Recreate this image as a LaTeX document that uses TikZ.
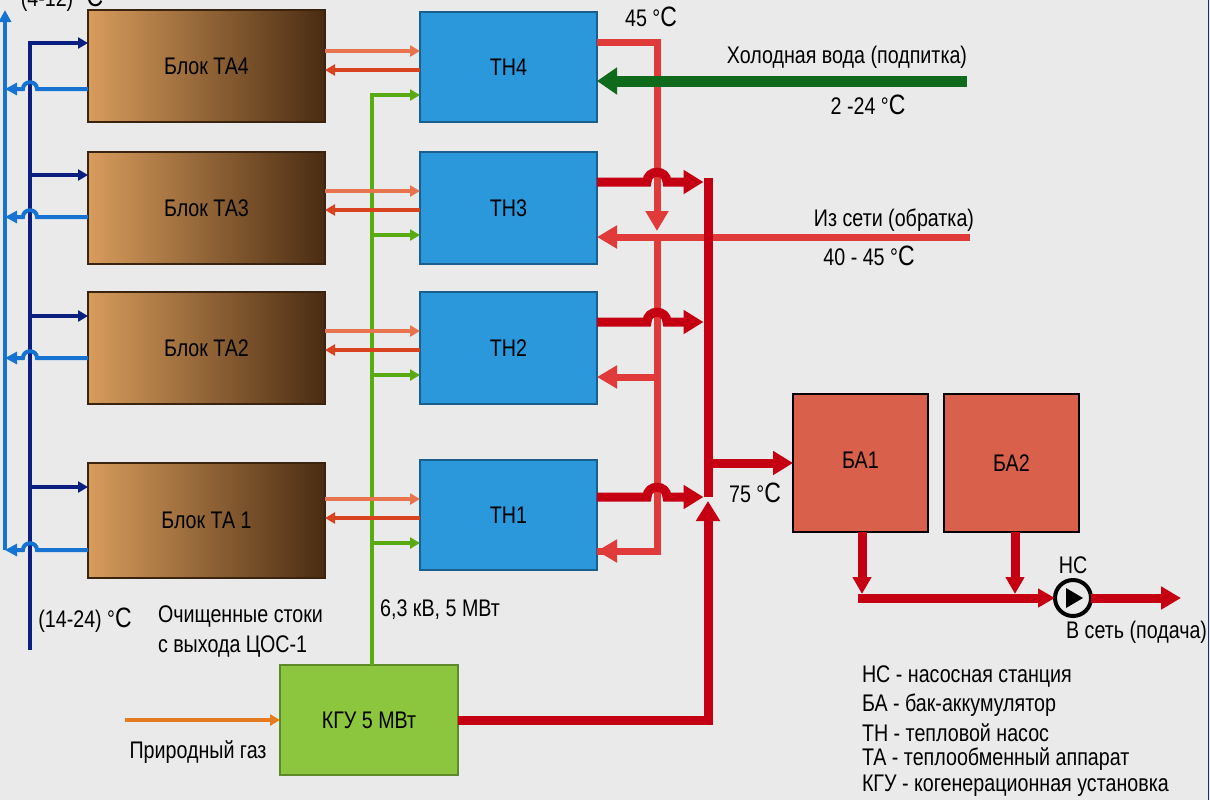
\documentclass[tikz,border=0pt]{standalone}
\usepackage{fontspec}
\setmainfont{Liberation Sans}[FakeStretch=0.82]
\usetikzlibrary{arrows.meta,calc}
\definecolor{bgc}{HTML}{EAEAEA}
\definecolor{talight}{HTML}{D89C5C}
\definecolor{tadark}{HTML}{4A2C12}
\definecolor{tabord}{HTML}{3A2410}
\definecolor{thblue}{HTML}{2B98DC}
\definecolor{thbord}{HTML}{1A5E8E}
\definecolor{kgugreen}{HTML}{8CC63F}
\definecolor{kgubord}{HTML}{5E8A2A}
\definecolor{bafill}{HTML}{D9604A}
\definecolor{dred}{HTML}{C40012}
\definecolor{lred}{HTML}{E03A3A}
\definecolor{salmon}{HTML}{E8734F}
\definecolor{redor}{HTML}{D8421F}
\definecolor{gpipec}{HTML}{5AAA12}
\definecolor{cold}{HTML}{0F6A1C}
\definecolor{navy}{HTML}{0B1F80}
\definecolor{lblue}{HTML}{1673D2}
\definecolor{gasc}{HTML}{E67A1E}
\definecolor{edgec}{HTML}{1A2A80}
\newcommand{\degC}{°{\fontsize{14}{14}\selectfont C}}
\begin{document}
\begin{tikzpicture}[x=0.5pt,y=-0.5pt,
  every node/.style={font=\fontsize{12}{14}\selectfont, inner sep=0pt, outer sep=0pt},
  box/.style={rectangle, anchor=north west, line width=0.6pt},
  tabox/.style={box, draw=tabord, left color=talight, right color=tadark, minimum width=118.5pt},
  thbox/.style={box, draw=thbord, fill=thblue, minimum width=88.5pt},
  babox/.style={box, draw=black, line width=1pt, fill=bafill, minimum width=67.5pt, minimum height=69pt},
  lbl/.style={text=black},
  smalltip/.style={-{Triangle[length=5pt,width=5.5pt]}},
  tathA/.style={draw=salmon, line width=2pt, smalltip},
  tathB/.style={draw=redor, line width=2pt, smalltip},
  gpipe/.style={draw=gpipec, line width=2pt, smalltip},
  npipe/.style={draw=navy, line width=2pt, smalltip},
  bpipe/.style={draw=lblue, line width=2pt},
  lpipe/.style={draw=lred, line width=3.5pt},
  ltip/.style={-{Triangle[length=10pt,width=11pt]}},
  dpipe/.style={draw=dred, line width=4.5pt},
  dtip/.style={-{Triangle[length=10pt,width=11.5pt]}},
  btip/.style={-{Triangle[length=8.5pt,width=9pt]}},
  otip/.style={-{Triangle[length=10pt,width=11pt]}},
]
\useasboundingbox[fill=bgc] (0,0) rectangle (1210,800);
\draw[edgec, line width=0.8pt] (1208.5,0) -- (1208.5,800);

% ---- boxes
\node[tabox, minimum height=56pt] (ta4) at (88,10) {Блок ТА4};
\node[tabox, minimum height=56pt] (ta3) at (88,152) {Блок ТА3};
\node[tabox, minimum height=56pt] (ta2) at (88,292) {Блок ТА2};
\node[tabox, minimum height=57.5pt] (ta1) at (88,463) {Блок ТА 1};
\node[thbox, minimum height=55pt] (th4) at (420,12) {ТН4};
\node[thbox, minimum height=56pt] (th3) at (420,152) {ТН3};
\node[thbox, minimum height=56pt] (th2) at (420,292) {ТН2};
\node[thbox, minimum height=55pt] (th1) at (420,460) {ТН1};
\node[box, draw=kgubord, fill=kgugreen, minimum width=89pt, minimum height=55pt] (kgu) at (280,665) {КГУ 5 МВт};
\node[babox] (ba1) at (793,394) {\raisebox{3pt}{БА1}};
\node[babox] (ba2) at (944,394) {\raisebox{-3pt}{БА2}};
\node[circle, draw=black, line width=2pt, minimum size=18pt, fill=bgc] (pump) at (1073,598) {};
\fill[black] ($(pump.center)+(-7,-10)$) -- ($(pump.center)+(-7,10)$) -- ($(pump.center)+(10,0)$) -- cycle;

% ---- green electric riser
\coordinate (gbase) at ($(kgu.north west)+(92,0)$);
\coordinate (g4) at ($(th4.north west)+(0,83)$);
\draw[gpipe] (gbase) |- (g4);
\foreach \i in {1,2,3} {
  \coordinate (g\i) at ($(th\i.north west)+(0,83)$);
  \draw[gpipe] (gbase |- g\i) -- (g\i);
}

% ---- TA <-> TH
\foreach \i in {1,2,3,4} {
  \coordinate (u\i) at ($(th\i.north west)+(0,39)$);
  \coordinate (v\i) at ($(th\i.north west)+(0,58)$);
  \draw[tathA] (ta\i.east |- u\i) -- (u\i);
  \draw[tathB] (v\i) -- (ta\i.east |- v\i);
}

% ---- navy supply
\coordinate (nb) at (30,650);
\coordinate (na4) at ($(ta4.north west)+(0,33)$);
\draw[npipe] (nb) |- (na4);
\foreach \i/\o in {3/23,2/24,1/24} {
  \coordinate (na\i) at ($(ta\i.north west)+(0,\o)$);
  \draw[npipe] (nb |- na\i) -- (na\i);
}

% ---- light blue return
\coordinate (lbtop) at (5,10);
\foreach \i/\r in {4/79,3/65,2/66,1/87} {
  \coordinate (lr\i) at ($(ta\i.north west)+(0,\r)$);
  \draw[bpipe, -{Triangle[length=6pt,width=6pt]}] (lr\i) -- ($(lr\i -| nb)+(7,0)$)
     .. controls ($(lr\i -| nb)+(7,-9)$) and ($(lr\i -| nb)+(-7,-9)$) .. ($(lr\i -| nb)+(-7,0)$)
     -- (lr\i -| lbtop);
}
\draw[bpipe, -{Triangle[length=6pt,width=6pt]}] (lr1 -| lbtop) -- (lbtop);

% ---- light red (45 C line and network return)
\coordinate (o4) at ($(th4.north east)+(0,30)$);
\coordinate (c45) at ($(o4)+(60,0)$);
\coordinate (ret) at ($(th3.north east)+(0,85)$);
\coordinate (jr) at (c45 |- ret);
\coordinate (r2) at ($(th2.north east)+(0,85)$);
\coordinate (r1) at ($(th1.north east)+(0,91)$);
\coordinate (retin) at ($(ret)+(373,0)$);
\draw[lpipe, ltip] (retin) -- (ret);
\draw[lpipe] (jr) |- (r1);
\draw[lpipe, ltip] ($(jr |- r1)+(0,-3.5)$) |- (r1);
\draw[lpipe, ltip] (jr |- r2) -- (r2);
\draw[lpipe, ltip, shorten >=3pt] (o4) -| (jr);

% ---- cold water
\coordinate (cw) at ($(th4.north east)+(370,69)$);
\draw[cold, line width=5.5pt, -{Triangle[length=10pt,width=13pt]}] (cw) -- (cw -| th4.east);

% ---- dark red: TH outputs, collector, KGU
\coordinate (coll) at (708,0);
\coordinate (o3) at ($(th3.north east)+(0,30)$);
\coordinate (o2) at ($(th2.north east)+(0,30)$);
\coordinate (o1) at ($(th1.north east)+(0,37)$);
\draw[dpipe] ($(o3 -| coll)+(0,-4.5)$) -- (o1 -| coll);
\foreach \i in {1,2,3} {
  \draw[dpipe, dtip] (o\i) -- ($(o\i -| c45)+(-10,0)$)
     .. controls ($(o\i -| c45)+(-10,-13)$) and ($(o\i -| c45)+(10,-13)$) .. ($(o\i -| c45)+(10,0)$)
     -- ($(o\i -| coll)+(-4.5,0)$);
}
\draw[dpipe, dtip] (kgu.east) -| ($(o1 -| coll)+(0,4)$);
\coordinate (f) at ($(ba1.north west)+(0,69)$);
\draw[dpipe, dtip] (f -| coll) -- (f);

% ---- tanks to pump
\coordinate (d1) at ($(ba1.south west)+(69,0)$);
\coordinate (d2) at ($(ba2.south west)+(71,0)$);
\draw[dpipe, btip] (d1) -- ($(d1 |- pump)+(0,-4)$);
\draw[dpipe, btip] (d2) -- ($(d2 |- pump)+(0,-4)$);
\draw[dpipe, btip] ($(d1 |- pump)+(-4.5,0)$) -- (pump.west);
\coordinate (outend) at ($(pump.east)+(90,0)$);
\draw[dpipe, otip] (pump.east) -- (outend);

% ---- gas
\coordinate (gasin) at ($(kgu.west)+(-155,0)$);
\draw[gasc, line width=2pt, smalltip] (gasin) -- (kgu.west);

% ---- labels
\node[lbl, anchor=base] (t412) at (62,6) {(4-12) \degC};
\node[lbl] (t45) at (651,17) {45 \degC};
\node[lbl] (tcold) at (847,57) {Холодная вода (подпитка)};
\node[lbl] (t224) at (868,105) {2 -24 \degC};
\node[lbl] (tret) at (894,220) {Из сети (обратка)};
\node[lbl] (t4045) at (869,256) {40 - 45 \degC};
\node[lbl] (t75) at (755,493) {75 \degC};
\node[lbl] (t1424) at (85,620) {(14-24) \degC};
\node[lbl, anchor=west, align=left] (tcos) at (158,631) {Очищенные стоки\\[1pt]с выхода ЦОС-1};
\node[lbl] (tkv) at (440,610) {6,3 кВ, 5 МВт};
\node[lbl] (tgas) at (198,752) {Природный газ};
\node[lbl] (tns) at (1073,565) {НС};
\node[lbl, anchor=east] (tout) at (1207,632) {В сеть (подача)};
\node[lbl, anchor=west] (leg1) at (862,676) {НС - насосная станция};
\node[lbl, anchor=west] (leg2) at (862,705) {БА - бак-аккумулятор};
\node[lbl, anchor=west] (leg3) at (862,733) {ТН - тепловой насос};
\node[lbl, anchor=west] (leg4) at (862,759) {ТА - теплообменный аппарат};
\node[lbl, anchor=west] (leg5) at (862,786) {КГУ - когенерационная установка};
\end{tikzpicture}
\end{document}
